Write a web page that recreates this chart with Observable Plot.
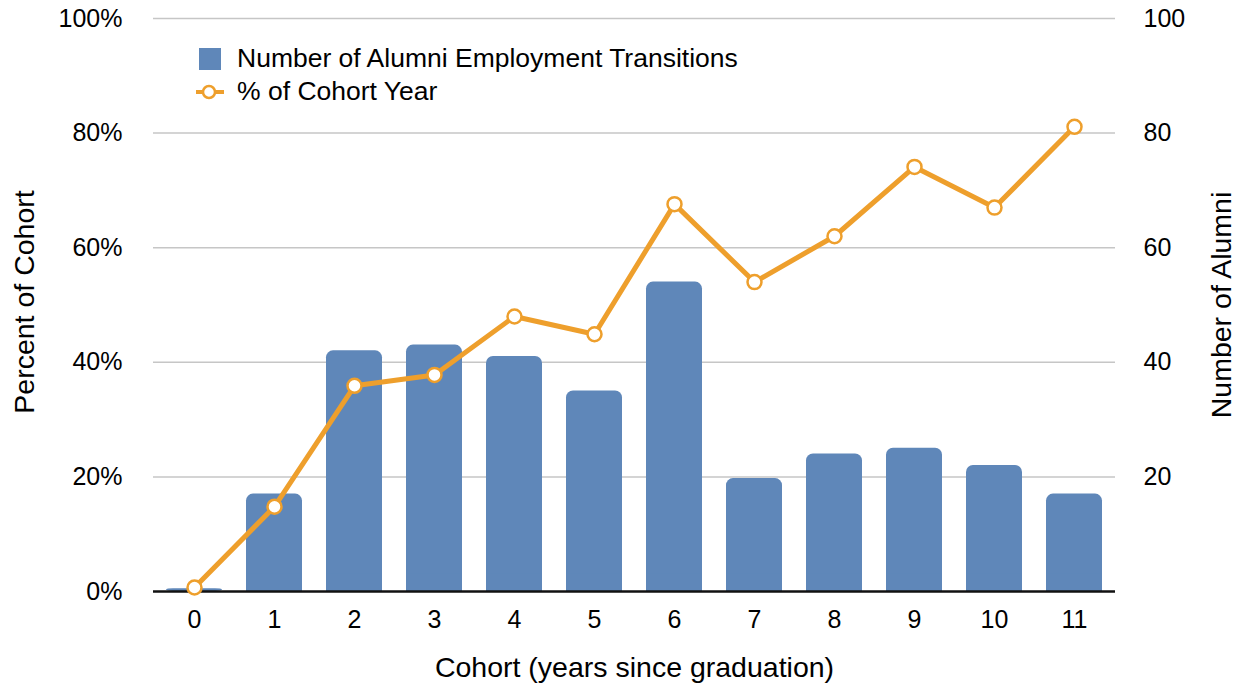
<!DOCTYPE html>
<html>
<head>
<meta charset="utf-8">
<script src="https://cdn.jsdelivr.net/npm/d3@7"></script>
<script src="https://cdn.jsdelivr.net/npm/@observablehq/plot@0.6"></script>
<style>
  html, body { margin: 0; padding: 0; background: #fff; }
  #wrap { position: relative; width: 1249px; height: 690px; font-family: "Liberation Sans", Arial, Helvetica, sans-serif; }
  #legend { position: absolute; left: 196px; top: 42px; font-size: 26.5px; color: #000; }
  .item { display: flex; align-items: center; height: 33px; }
  .item svg { margin-right: 13px; }
</style>
</head>
<body>
<div id="wrap">
  <div id="chart"></div>
  <div id="legend">
    <div class="item"><svg width="28" height="24"><rect x="3" y="1" width="22" height="22" fill="#5f87b9"></rect></svg><span>Number of Alumni Employment Transitions</span></div>
    <div class="item"><svg width="28" height="24"><line x1="0" y1="12" x2="28" y2="12" stroke="#ee9f2c" stroke-width="4"></line><circle cx="13" cy="12" r="6" fill="#fff" stroke="#ee9f2c" stroke-width="2.5"></circle></svg><span>% of Cohort Year</span></div>
  </div>
</div>
<script>
const cohorts = [0, 1, 2, 3, 4, 5, 6, 7, 8, 9, 10, 11];
const alumniTransitions = [0.5, 17, 42, 43, 41, 35, 54, 19.7, 24, 25, 22, 17];
const pctOfCohort = [0.7, 14.8, 35.9, 37.8, 48, 44.9, 67.6, 54, 62, 74.1, 67, 81.1];
const leftTicks = [0, 20, 40, 60, 80, 100];
const rightTicks = [20, 40, 60, 80, 100];
const xTitle = "Cohort (years since graduation)";
const leftTitle = "Percent of Cohort";
const rightTitle = "Number of Alumni";

const data = cohorts.map((c, i) => ({cohort: c, alumni: alumniTransitions[i], pct: pctOfCohort[i]}));

const orange = "#ee9f2c";
const blue = "#5f87b9";

const chart = Plot.plot({
  width: 1249,
  height: 690,
  marginLeft: 153,
  marginRight: 134,
  marginTop: 18,
  marginBottom: 99,
  style: {fontFamily: "'Liberation Sans', Arial, Helvetica, sans-serif", fontSize: "25px", color: "#000", background: "#fff"},
  x: {type: "band", domain: cohorts, paddingInner: 0.3, paddingOuter: 0.15, label: null},
  y: {domain: [0, 100], label: null},
  marks: [
    Plot.gridY(rightTicks, {stroke: "#c6c6c6", strokeOpacity: 1, strokeWidth: 1.5}),
    // rounded bars, then a square-cornered lower part so only the top corners are rounded
    Plot.barY(data, {x: "cohort", y: "alumni", fill: blue, rx: 7, ry: 7}),
    Plot.barY(data.filter(d => d.alumni > 2), {x: "cohort", y: d => Math.min(d.alumni, 3), fill: blue}),
    Plot.ruleY([0], {stroke: "#111", strokeWidth: 2.5}),
    Plot.line(data, {x: "cohort", y: "pct", stroke: orange, strokeWidth: 5}),
    Plot.dot(data, {x: "cohort", y: "pct", r: 7, fill: "#fff", stroke: orange, strokeWidth: 2.5}),
    Plot.axisY(leftTicks, {anchor: "left", tickSize: 0, tickPadding: 31, tickFormat: d => d + "%", label: null, fontSize: 25}),
    Plot.axisY(rightTicks, {anchor: "right", tickSize: 0, tickPadding: 28, tickFormat: d => String(d), label: null, fontSize: 25}),
    Plot.axisX({tickSize: 0, tickPadding: 19, label: null, fontSize: 25}),
    Plot.text([leftTitle], {frameAnchor: "left", textAnchor: "middle", dx: -129, dy: -3, rotate: -90, fontSize: 28.5, fill: "#000"}),
    Plot.text([rightTitle], {frameAnchor: "right", textAnchor: "middle", dx: 106, dy: 0, rotate: -90, fontSize: 28.5, fill: "#000"}),
    Plot.text([xTitle], {frameAnchor: "bottom", dy: 85, fontSize: 28.5, fill: "#000"})
  ]
});
document.getElementById("chart").appendChild(chart);
</script>
</body>
</html>
